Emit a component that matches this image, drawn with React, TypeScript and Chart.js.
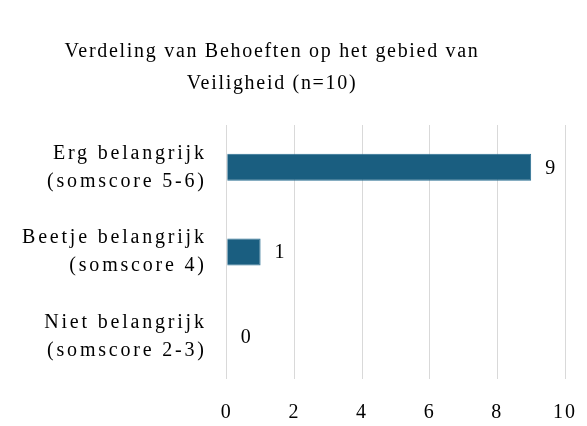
import React, { useEffect, useRef } from "react";
import { Chart, registerables } from "chart.js";

Chart.register(...registerables);

const titleLines = ["Verdeling van Behoeften op het gebied van", "Veiligheid (n=10)"];
const categories = [
  ["Erg belangrijk", "(somscore 5-6)"],
  ["Beetje belangrijk", "(somscore 4)"],
  ["Niet belangrijk", "(somscore 2-3)"],
];
const counts = [9, 1, 0];
const xMin = 0;
const xMax = 10;
const xStep = 2;

const FONT = "'Liberation Serif', 'Times New Roman', serif";
const TITLE_SP = "1.7px";
const Y_SP = "2.8px";
const X_SP = "2px";
const TITLE_CENTER = 272;

function wrapSpacing(chart: any, obj: any, method: string, sp: string) {
  if (!obj || obj["__w_" + method]) return;
  const orig = obj[method].bind(obj);
  obj[method] = (...args: any[]) => {
    const c = chart.ctx;
    const prev = c.letterSpacing;
    c.letterSpacing = sp;
    orig(...args);
    c.letterSpacing = prev;
  };
  obj["__w_" + method] = true;
}

const spacingPlugin = {
  id: "spacing",
  afterLayout(chart: any) {
    wrapSpacing(chart, chart.scales.y, "drawLabels", Y_SP);
    wrapSpacing(chart, chart.scales.x, "drawLabels", X_SP);
    const tb = chart.titleBlock;
    if (tb) {
      wrapSpacing(chart, tb, "draw", TITLE_SP);
      tb.right = 2 * TITLE_CENTER - tb.left;
      tb.width = tb.right - tb.left;
    }
  },
};

const valueLabels = {
  id: "valueLabels",
  afterDatasetsDraw(chart: any) {
    const ctx = chart.ctx;
    const meta = chart.getDatasetMeta(0);
    ctx.save();
    ctx.letterSpacing = "0px";
    ctx.font = `20px ${FONT}`;
    ctx.fillStyle = "#000";
    ctx.textAlign = "left";
    ctx.textBaseline = "middle";
    meta.data.forEach((bar: any, i: number) => {
      const v = chart.data.datasets[0].data[i];
      ctx.fillText(String(v), bar.x + 14, bar.y + 1);
    });
    ctx.restore();
  },
};

export default function App() {
  const ref = useRef<HTMLCanvasElement>(null);
  useEffect(() => {
    if (!ref.current) return;
    const chart = new Chart(ref.current, {
      type: "bar",
      data: {
        labels: categories,
        datasets: [
          {
            data: counts,
            backgroundColor: "#1a5e80",
            borderColor: "#2a6f92",
            borderWidth: 1,
            barPercentage: 0.55,
            categoryPercentage: 0.58,
          },
        ],
      },
      options: {
        indexAxis: "y",
        animation: false,
        responsive: false,
        maintainAspectRatio: false,
        layout: { padding: { top: 16, right: 22, bottom: -21, left: 2 } },
        plugins: {
          legend: { display: false },
          tooltip: { enabled: false },
          title: {
            display: true,
            text: titleLines,
            color: "#000",
            font: { family: FONT, size: 20, weight: "normal", lineHeight: 1.6 },
            padding: { top: 20, bottom: 25 },
          },
        },
        scales: {
          x: {
            min: xMin,
            max: xMax,
            beforeUpdate: (s: any) => { s.ctx.letterSpacing = X_SP; },
            afterUpdate: (s: any) => { s.ctx.letterSpacing = "0px"; },
            afterFit: (s: any) => { s.paddingLeft = 0; s.paddingRight = 0; },
            ticks: {
              stepSize: xStep,
              color: "#000",
              font: { family: FONT, size: 20 },
              padding: 22,
            },
            grid: { color: "#d9d9d9", drawTicks: false },
            border: { display: false },
          },
          y: {
            beforeUpdate: (s: any) => { s.ctx.letterSpacing = Y_SP; },
            afterUpdate: (s: any) => { s.ctx.letterSpacing = "0px"; },
            afterFit: (s: any) => { s.paddingTop = 0; s.paddingBottom = 0; },
            ticks: {
              color: "#000",
              font: { family: FONT, size: 20, lineHeight: 1.4 },
              padding: 20,
            },
            grid: { display: false, drawTicks: false },
            border: { display: false },
          },
        },
      },
      plugins: [spacingPlugin, valueLabels],
    });
    return () => chart.destroy();
  }, []);
  return (
    <div style={{ position: "fixed", left: 0, top: 0, width: 587, height: 426, background: "#fff" }}>
      <canvas ref={ref} width={587} height={426} />
    </div>
  );
}
